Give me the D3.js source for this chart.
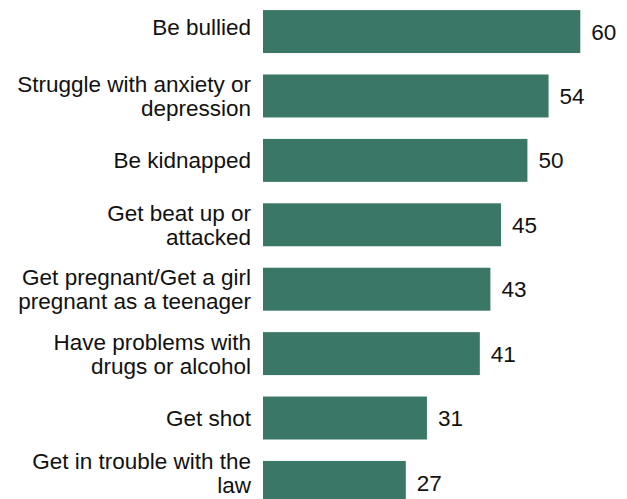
<!DOCTYPE html>
<html>
<head>
<meta charset="utf-8">
<script src="https://cdn.jsdelivr.net/npm/d3@7"></script>
<style>
html, body { margin: 0; padding: 0; background: #ffffff; }
svg { display: block; }
text { font-family: "Liberation Sans", Arial, sans-serif; fill: #111111; }
</style>
</head>
<body>
<svg id="chart" width="627" height="499"></svg>
<script>
const categories = [
  ["Be bullied"],
  ["Struggle with anxiety or", "depression"],
  ["Be kidnapped"],
  ["Get beat up or", "attacked"],
  ["Get pregnant/Get a girl", "pregnant as a teenager"],
  ["Have problems with", "drugs or alcohol"],
  ["Get shot"],
  ["Get in trouble with the", "law"]
];
const values = [60, 54, 50, 45, 43, 41, 31, 27];

const W = 627, H = 499;
const svg = d3.select("#chart");
const x = d3.scaleLinear().domain([0, 60]).range([263, 580.3]);
const y = d3.scaleBand().domain(d3.range(categories.length))
  .range([-0.6, 514.6]).paddingInner(0.333).paddingOuter(0.166);
const FS = 22.5;

const g = svg.append("g");
g.selectAll("rect").data(values).join("rect")
  .attr("x", x(0))
  .attr("y", (d, i) => y(i))
  .attr("width", d => x(d) - x(0))
  .attr("height", y.bandwidth())
  .attr("fill", "#3a7767");

g.selectAll("text.val").data(values).join("text")
  .attr("class", "val")
  .attr("x", d => x(d) + 11)
  .attr("y", (d, i) => y(i) + y.bandwidth() / 2)
  .attr("dy", "0.36em")
  .attr("font-size", FS)
  .text(d => d);

const lab = g.selectAll("text.lab").data(categories).join("text")
  .attr("class", "lab")
  .attr("text-anchor", "end")
  .attr("font-size", FS)
  .attr("y", (d, i) => y(i) + y.bandwidth() / 2 - (i === 0 ? 4.5 : 0));
lab.each(function(lines) {
  const t = d3.select(this);
  const n = lines.length;
  lines.forEach((l, k) => {
    t.append("tspan")
      .attr("x", 251)
      .attr("dy", k === 0 ? ((0.36 - (n - 1) * 0.53) + "em") : "1.06em")
      .text(l);
  });
  // keep label inside the picture
  const bb = this.getBBox();
  const over = bb.y + bb.height - (H - 1);
  if (over > 0) t.attr("transform", `translate(0,${-over})`);
});
</script>
</body>
</html>
